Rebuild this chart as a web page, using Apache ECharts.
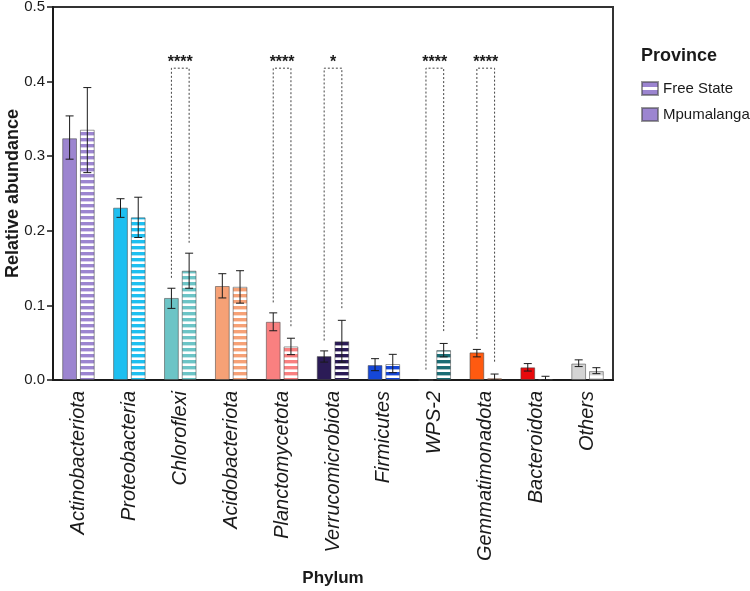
<!DOCTYPE html>
<html><head><meta charset="utf-8">
<script src="https://cdn.jsdelivr.net/npm/echarts@6/dist/echarts.min.js"></script>
<style>html,body{margin:0;padding:0;background:#fff}#c{width:750px;height:591px}</style>
</head><body><div id="c"></div>
<script>
// ---------- data ----------
const categories = ['Actinobacteriota','Proteobacteria','Chloroflexi','Acidobacteriota','Planctomycetota','Verrucomicrobiota','Firmicutes','WPS-2','Gemmatimonadota','Bacteroidota','Others'];
const legendNames = ['Free State','Mpumalanga'];
const mpumalanga = [0.324,0.231,0.110,0.126,0.078,0.032,0.020,0,0.037,0.017,0.022];
const mpumalangaLow = [0.296,0.218,0.096,0.110,0.066,0.024,0.0125,null,0.031,0.012,0.018];
const mpumalangaHigh = [0.354,0.243,0.123,0.1425,0.090,0.039,0.0286,null,0.041,0.022,0.027];
const freeState = [0.3355,0.218,0.1465,0.125,0.045,0.052,0.0214,0.040,0.0023,0.001,0.012];
const freeStateLow = [0.278,0.191,0.123,0.103,0.034,0.024,0.0098,0.031,0,0,0.0085];
const freeStateHigh = [0.392,0.245,0.170,0.1465,0.056,0.080,0.0344,0.049,0.008,0.005,0.0165];
const significance = ['','','****','','****','*','','****','****','',''];
const yTicks = [0,0.1,0.2,0.3,0.4,0.5];

// ---------- style ----------
const phylumColors = ['#9c85d0','#1ebff0','#6cc4c6','#f6a176','#f98080','#2b1b56','#1547d9','#1a6d75','#ff5a10','#e80a0c','#d4d4d4'];
const FONT = '"Liberation Sans", Arial, Helvetica, sans-serif';
const bracketTop = 0.418, legGap = 0.014;

function stripe(color){
  const c = document.createElement('canvas');
  c.width = 6; c.height = 6;
  const g = c.getContext('2d');
  g.fillStyle = color; g.fillRect(0,0,6,6);
  g.fillStyle = '#ffffff'; g.fillRect(0,3.4,6,2.6);
  return {image:c, repeat:'repeat'};
}
function legendStripe(color){
  const c = document.createElement('canvas');
  c.width = 16; c.height = 13;
  const g = c.getContext('2d');
  g.fillStyle = color; g.fillRect(0,0,16,13);
  g.fillStyle = '#ffffff'; g.fillRect(0,5,16,3);
  return {image:c, repeat:'repeat'};
}

const barBorder = {borderColor:'rgba(70,70,70,0.55)', borderWidth:1};

function errorSeries(name, vals, low, high, side){
  const data = [];
  low.forEach((l,i)=>{ if(l!=null) data.push([i,l,high[i]]); });
  return {
    type:'custom', name, z:5, silent:true,
    data, encode:{x:0,y:[1,2]},
    renderItem(params, api){
      const i = api.value(0);
      const band = api.size([1,0])[0];
      const x = api.coord([i,0])[0] + side*band*0.174;
      const y1 = api.coord([i,api.value(1)])[1];
      const y2 = api.coord([i,api.value(2)])[1];
      const cap = 4;
      const st = {stroke:'#1a1a1a', lineWidth:1};
      return {type:'group', children:[
        {type:'line', shape:{x1:x,y1:y1,x2:x,y2:y2}, style:st},
        {type:'line', shape:{x1:x-cap,y1:y2,x2:x+cap,y2:y2}, style:st},
        {type:'line', shape:{x1:x-cap,y1:y1,x2:x+cap,y2:y1}, style:st}
      ]};
    }
  };
}

const sigIdx = categories.map((c,i)=>i).filter(i=>significance[i]);
const bracketData = sigIdx.map(i=>[i,
  (mpumalangaHigh[i]!=null?mpumalangaHigh[i]:mpumalanga[i]) + legGap,
  freeStateHigh[i] + legGap, bracketTop]);

const chart = echarts.init(document.getElementById('c'));
chart.setOption({
  animation:false,
  textStyle:{fontFamily:FONT},
  grid:{left:53, right:137, top:7, bottom:211, containLabel:false, outerBoundsMode:'none',
    show:true, borderColor:'#333', borderWidth:2},
  title:{text:'Province', left:636, top:42, textStyle:{fontFamily:FONT, fontSize:18, fontWeight:'bold', color:'#1a1a1a'}},
  legend:{
    data:[{name:legendNames[0], itemStyle:{color:legendStripe(phylumColors[0])}}, {name:legendNames[1]}],
    orient:'vertical', left:636, top:76, itemWidth:16, itemHeight:13, itemGap:11, icon:'rect',
    selectedMode:false, textStyle:{fontFamily:FONT, fontSize:15, color:'#1a1a1a'}
  },
  xAxis:{
    type:'category', data:categories,
    axisLine:{lineStyle:{color:'#1a1a1a', width:2}},
    axisTick:{alignWithLabel:true, length:6, lineStyle:{width:1.5, color:'#1a1a1a'}},
    axisLabel:{rotate:90, fontStyle:'italic', fontSize:20, color:'#1a1a1a', margin:11, fontFamily:FONT},
    name:'Phylum', nameLocation:'middle', nameGap:190, nameMoveOverlap:false,
    nameTextStyle:{fontWeight:'bold', fontSize:17, color:'#1a1a1a', fontFamily:FONT}
  },
  yAxis:{
    type:'value', min:0, max:0.5, interval:0.1,
    axisLine:{show:true, lineStyle:{color:'#1a1a1a', width:2}},
    axisTick:{show:true, length:6, lineStyle:{width:1.5, color:'#1a1a1a'}},
    splitLine:{show:false},
    axisLabel:{fontSize:15, color:'#1a1a1a', margin:8, fontFamily:FONT,
      formatter:v=>{const t=yTicks.find(t=>Math.abs(t-v)<1e-9); return t!=null?t.toFixed(1):'';}},
    name:'Relative abundance', nameLocation:'middle', nameGap:31, nameMoveOverlap:false,
    nameTextStyle:{fontWeight:'bold', fontSize:18, color:'#1a1a1a', fontFamily:FONT}
  },
  series:[
    {name:legendNames[1], type:'bar', barWidth:'29%', barGap:'20%',
      itemStyle:Object.assign({color:phylumColors[0]}, barBorder),
      data:mpumalanga.map((v,i)=>({value:v, itemStyle:{color:phylumColors[i]}}))},
    {name:legendNames[0], type:'bar', barWidth:'29%', barGap:'20%',
      itemStyle:Object.assign({color:stripe(phylumColors[0])}, barBorder),
      data:freeState.map((v,i)=>({value:v, itemStyle:{color:stripe(phylumColors[i])}}))},
    errorSeries('err-m', mpumalanga, mpumalangaLow, mpumalangaHigh, -1),
    errorSeries('err-f', freeState, freeStateLow, freeStateHigh, 1),
    {type:'custom', name:'sig', z:6, silent:true, data:bracketData, encode:{x:0,y:[1,2,3]},
      renderItem(params, api){
        const i = api.value(0);
        const band = api.size([1,0])[0];
        const cx = api.coord([i,0])[0];
        const xl = cx - band*0.174, xr = cx + band*0.174;
        const yl = api.coord([i,api.value(1)])[1];
        const yr = api.coord([i,api.value(2)])[1];
        const yt = api.coord([i,api.value(3)])[1];
        return {type:'group', children:[
          {type:'polyline', shape:{points:[[xl,yl],[xl,yt],[xr,yt],[xr,yr]]},
            style:{stroke:'#444', lineWidth:1, lineDash:[2,2], fill:null}},
          {type:'text', x:cx, y:yt+2, style:{text:significance[sigIdx[params.dataIndex]],
            fontSize:16, fontWeight:'bold', fontFamily:FONT, fill:'#1a1a1a', align:'center', verticalAlign:'bottom'}}
        ]};
      }}
  ]
});
</script></body></html>
